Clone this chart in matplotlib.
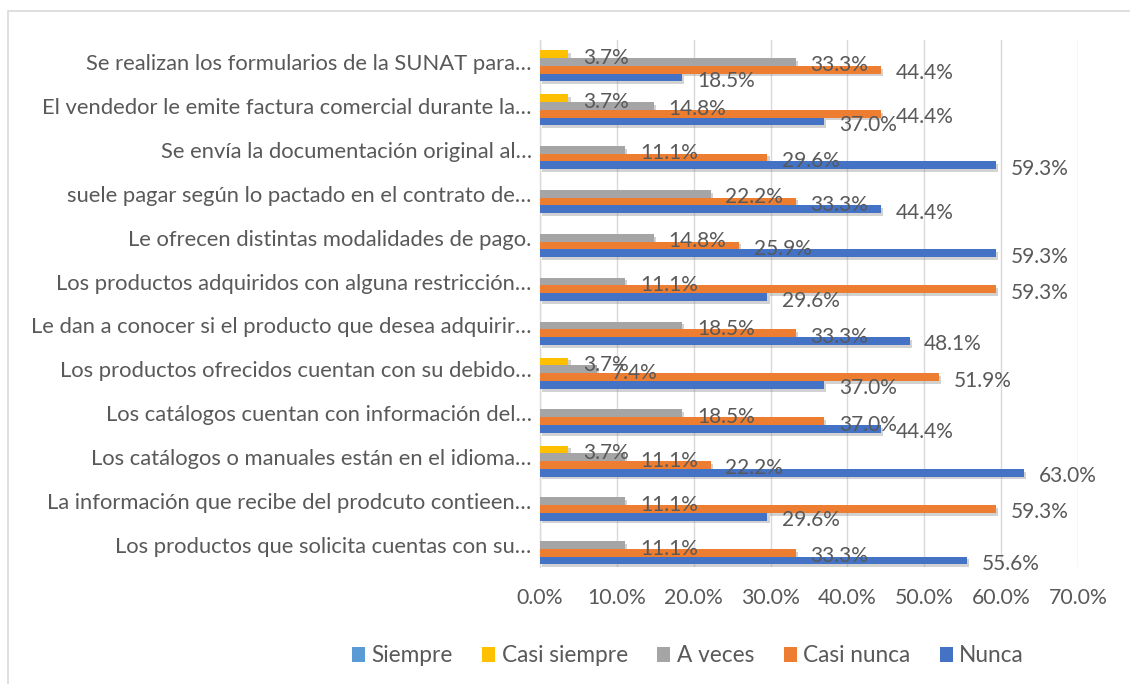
import matplotlib
matplotlib.use("Agg")
import matplotlib.pyplot as plt
import matplotlib.patheffects as pe
from matplotlib.patches import Patch, Rectangle
import numpy as np

plt.rcParams['font.family'] = ['Lato', 'DejaVu Sans']

# Categories listed top to bottom as in the chart
categories = [
    "Se realizan los formularios de la SUNAT para…",
    "El vendedor le emite factura comercial durante la…",
    "Se envía la documentación original al…",
    "suele pagar según lo pactado en el contrato de…",
    "Le ofrecen distintas modalidades de pago.",
    "Los productos adquiridos con alguna restricción…",
    "Le dan a conocer si el producto que desea adquirir…",
    "Los productos ofrecidos cuentan con su debido…",
    "Los catálogos cuentan con información del…",
    "Los catálogos o manuales están en el idioma…",
    "La información que recibe del prodcuto contieen…",
    "Los productos que solicita cuentas con su…",
]

series_names = ["Siempre", "Casi siempre", "A veces", "Casi nunca", "Nunca"]

siempre      = [0, 0, 0, 0, 0, 0, 0, 0, 0, 0, 0, 0]
casi_siempre = [3.7, 3.7, 0, 0, 0, 0, 0, 3.7, 0, 3.7, 0, 0]
a_veces      = [33.3, 14.8, 11.1, 22.2, 14.8, 11.1, 18.5, 7.4, 18.5, 11.1, 11.1, 11.1]
casi_nunca   = [44.4, 44.4, 29.6, 33.3, 25.9, 59.3, 33.3, 51.9, 37.0, 22.2, 59.3, 33.3]
nunca        = [18.5, 37.0, 59.3, 44.4, 59.3, 29.6, 48.1, 37.0, 44.4, 63.0, 29.6, 55.6]

xticks = [0, 10, 20, 30, 40, 50, 60, 70]

colors = ["#5B9BD5", "#FFC000", "#A5A5A5", "#ED7D31", "#4472C4"]
text_color = "#595959"

W, H = 1130, 684
fig = plt.figure(figsize=(W / 100, H / 100), dpi=100)
ax = fig.add_axes([540 / W, 1 - 567 / H, (1078 - 540) / W, (567 - 40) / H])

all_series = [siempre, casi_siempre, a_veces, casi_nunca, nunca]
n = len(categories)
y = np.arange(n)
bh = 0.177
offsets = [-2, -1, 0, 1, 2]

shadow = [pe.SimplePatchShadow(offset=(1.5, -2.0), shadow_rgbFace="#808080", alpha=0.35), pe.Normal()]

for vals, off, col in zip(all_series, offsets, colors):
    bars = ax.barh(y + off * bh, vals, height=bh, color=col, zorder=3)
    for b in bars:
        b.set_path_effects(shadow)
    for yi, v in zip(y, vals):
        if v > 0:
            ax.annotate(f"{v:.1f}%", xy=(v, yi + off * bh), xytext=(10.5, -2.5),
                        textcoords="offset points", va="center", ha="left",
                        fontsize=15, color=text_color, zorder=5)

ax.set_ylim(n - 0.5, -0.5)
ax.set_xlim(0, 70)
ax.set_yticks(y)
ax.set_yticklabels(categories, fontsize=15.8, color=text_color)
ax.set_xticks(xticks)
ax.set_xticklabels([f"{t:.1f}%" for t in xticks], fontsize=15.3, color=text_color)
ax.tick_params(axis="y", length=0, pad=6)
ax.tick_params(axis="x", length=0, pad=15)
ax.grid(axis="x", color="#D9D9D9", linewidth=1.0, zorder=0)
for s in ["top", "right", "bottom"]:
    ax.spines[s].set_visible(False)
ax.spines["left"].set_color("#D9D9D9")
ax.spines["left"].set_linewidth(1.0)

handles = [Patch(facecolor=c, edgecolor="none") for c in colors]
fig.legend(handles, series_names, loc="center", bbox_to_anchor=(688 / W, 1 - 656 / H),
           ncol=5, frameon=False, fontsize=16.3, handlelength=0.58, handleheight=0.58,
           handletextpad=0.28, columnspacing=1.3, labelcolor=text_color)

border = Rectangle((8 / W, -0.1), 1.2, 1.1 - 11 / H, transform=fig.transFigure,
                   fill=False, edgecolor="#D9D9D9", linewidth=1.2)
fig.patches.append(border)

fig.savefig("out.png", dpi=100)
